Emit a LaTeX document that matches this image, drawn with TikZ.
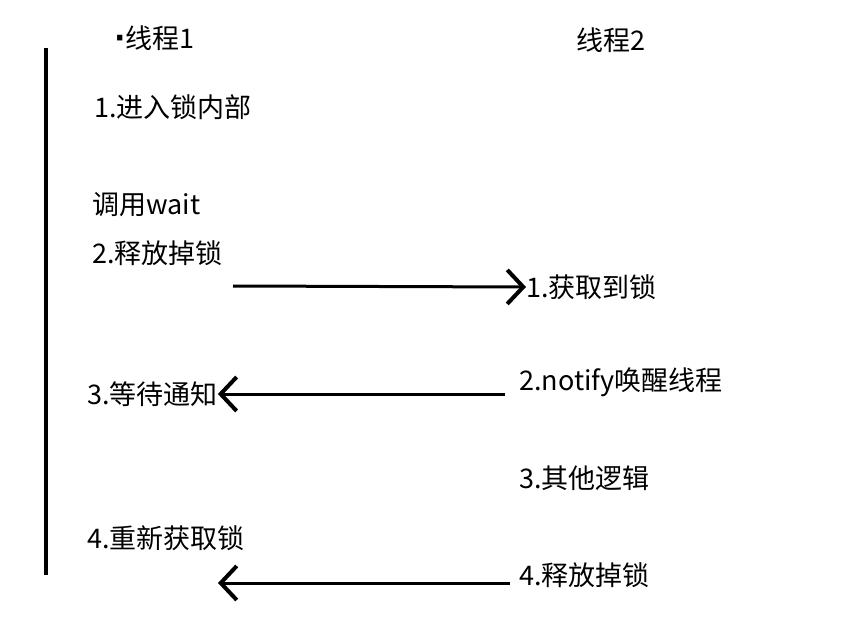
\documentclass[tikz,border=0pt]{standalone}
\usepackage{fontspec}
\newfontfamily\cjk{Noto Sans CJK SC}
\newfontfamily\dotfont{DejaVu Sans}
\usetikzlibrary{arrows.meta, positioning}

\begin{document}
\begin{tikzpicture}[x=1pt, y=-1pt,
	txt/.style = {anchor=west, inner sep=0pt, font=\cjk\fontsize{27}{32}\selectfont},
	]
	\useasboundingbox (0,0) rectangle (841,631);

	\node (head1)   [txt] at (114,38)  {{\dotfont\bfseries\fontsize{30}{32}\selectfont ·}线程1};
    \node (head2)   [txt] at (576,40)  {线程2};
	\node (enter)   [txt] at (94,107)  {1.进入锁内部};
	\node (callw)   [txt] at (92,205)  {调用wait};
	\node (release) [txt] at (92,253)  {2.释放掉锁};
	\node (wait)    [txt] at (87,394)  {3.等待通知};
	\node (regain)  [txt] at (87,538)  {4.重新获取锁};
	\node (get)     [txt] at (526,287) {1.获取到锁};
	\node (notify)  [txt] at (519,382) {2.notify唤醒线程};
	\node (other)   [txt] at (519,478) {3.其他逻辑};
	\node (free)    [txt] at (519,575) {4.释放掉锁};

	\coordinate (top1) at (46,48);
	\coordinate (bot1) at (46,575);
	\coordinate (from1) at (233,286);
	\coordinate (from2) at (505,394);
	\coordinate (from3) at (510,583);
	\coordinate (to3) at (218,583);

	\draw [line width=4pt] (top1) -- (bot1);

\path [-{Straight Barb[length=16pt, width=34pt, line width=4pt]}, line width=3pt]
	(from1) edge (get.west)
	(from2) edge (wait.east)
	(from3) edge (to3);
\end{tikzpicture}
\end{document}
